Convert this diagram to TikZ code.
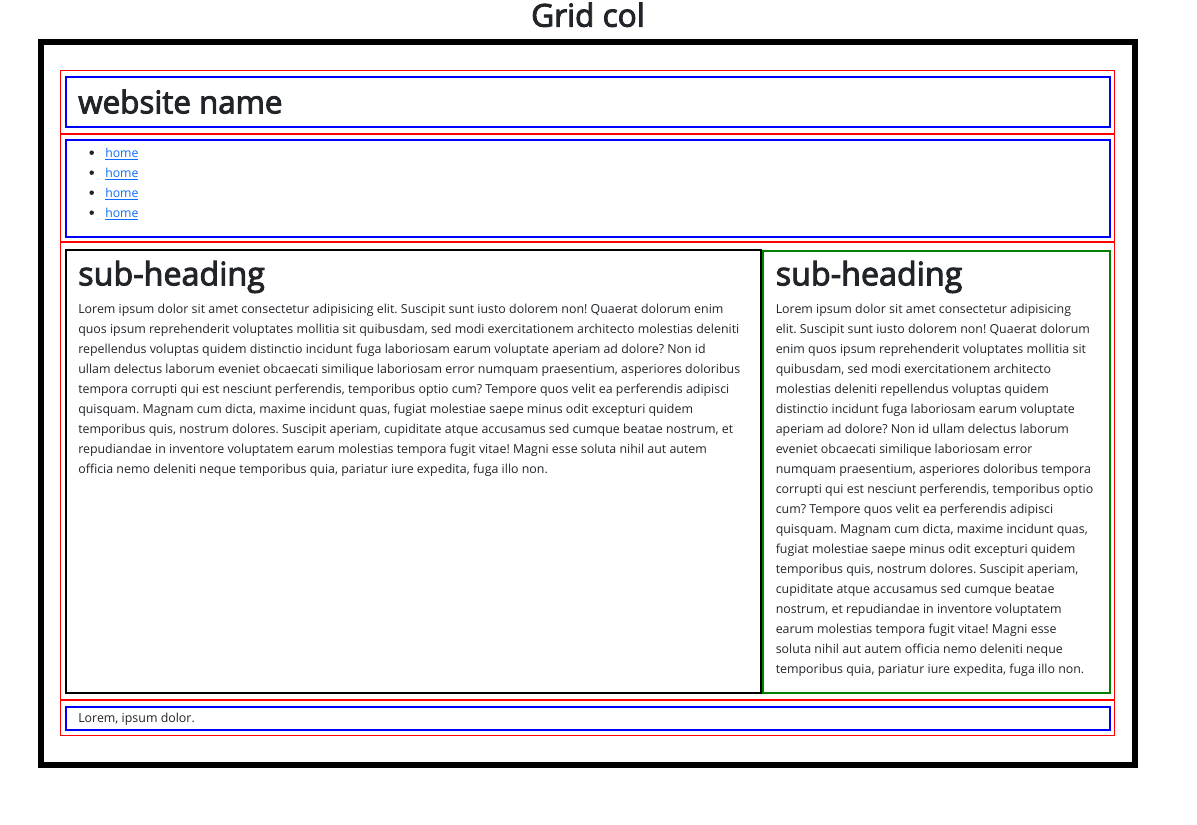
\documentclass[tikz,border=0pt]{standalone}
\usepackage{fontspec}
\setmainfont{Open Sans}
\newfontfamily\headfont{Open Sans}[FakeBold=3]
\definecolor{bstext}{HTML}{212529}
\definecolor{bslink}{HTML}{0D6EFD}
\definecolor{sidegreen}{HTML}{008000}
\frenchspacing
\tikzset{
  pageframe/.style={draw=black, line width=4.5pt},
  regionbox/.style={draw=red, line width=0.75pt},
  innerbox/.style={draw=blue, line width=1.5pt},
  mainbox/.style={draw=black, line width=1.5pt},
  sidebox/.style={draw=sidegreen, line width=1.5pt},
  txt/.style={anchor=base west, inner sep=0pt, text=bstext, font=\fontsize{9.3}{15}\selectfont},
  heading/.style={anchor=base west, inner sep=0pt, text=bstext, font=\headfont\fontsize{24.2}{29}\selectfont},
  navlink/.style={anchor=base west, inner sep=0pt, text=bslink, font=\fontsize{9.2}{15}\selectfont}
}

\begin{document}
\begin{tikzpicture}[x=0.75pt, y=-0.75pt]
    \useasboundingbox (0,0) rectangle (1197,825);
    \node (title) at (588,26.7) [heading, anchor=base, font=\headfont\fontsize{23.7}{28}\selectfont] {Grid col};
    \draw [pageframe] (41,42) rectangle (1135,765);

    \draw [regionbox] (60.5,70.5) rectangle (1114.5,133.5);
    \draw [regionbox] (60.5,134.5) rectangle (1114.5,241.5);
    \draw [regionbox] (60.5,242.5) rectangle (1114.5,699.5);
    \draw [regionbox] (60.5,700.5) rectangle (1114.5,735.5);

    \draw [innerbox] (66,77.3) rectangle (1110,126.7);
    \node (site) at (78,113.3) [heading, font=\headfont\fontsize{23.5}{28}\selectfont] {website name};

    \draw [innerbox] (66,140) rectangle (1110,236.7);
    \foreach \i in {0,...,3} {
        \fill [bstext] (91.7,152.7+20*\i) circle [radius=1.7pt];
        \node (home\i) at (105,157.3+20*\i) [navlink] {\underline{home}};
    }

    \draw [mainbox] (66,250) rectangle (761.2,693);
    \draw [sidebox] (763,250.5) rectangle (1109.7,692.7);
    \node (mainhead) at (78,285.3) [heading] {sub-heading};
    \node (sidehead) at (775.5,285.3) [heading] {sub-heading};

    \foreach \ln [count=\i from 0] in {
        {Lorem ipsum dolor sit amet consectetur adipisicing elit. Suscipit sunt iusto dolorem non! Quaerat dolorum enim},
        {quos ipsum reprehenderit voluptates mollitia sit quibusdam, sed modi exercitationem architecto molestias deleniti},
        {repellendus voluptas quidem distinctio incidunt fuga laboriosam earum voluptate aperiam ad dolore? Non id},
        {ullam delectus laborum eveniet obcaecati similique laboriosam error numquam praesentium, asperiores doloribus},
        {tempora corrupti qui est nesciunt perferendis, temporibus optio cum? Tempore quos velit ea perferendis adipisci},
        {quisquam. Magnam cum dicta, maxime incidunt quas, fugiat molestiae saepe minus odit excepturi quidem},
        {temporibus quis, nostrum dolores. Suscipit aperiam, cupiditate atque accusamus sed cumque beatae nostrum, et},
        {repudiandae in inventore voluptatem earum molestias tempora fugit vitae! Magni esse soluta nihil aut autem},
        {officia nemo deleniti neque temporibus quia, pariatur iure expedita, fuga illo non.}}
        \node (main\i) at (78,313+20*\i) [txt] {\ln};

    \foreach \ln [count=\i from 0] in {
        {Lorem ipsum dolor sit amet consectetur adipisicing},
        {elit. Suscipit sunt iusto dolorem non! Quaerat dolorum},
        {enim quos ipsum reprehenderit voluptates mollitia sit},
        {quibusdam, sed modi exercitationem architecto},
        {molestias deleniti repellendus voluptas quidem},
        {distinctio incidunt fuga laboriosam earum voluptate},
        {aperiam ad dolore? Non id ullam delectus laborum},
        {eveniet obcaecati similique laboriosam error},
        {numquam praesentium, asperiores doloribus tempora},
        {corrupti qui est nesciunt perferendis, temporibus optio},
        {cum? Tempore quos velit ea perferendis adipisci},
        {quisquam. Magnam cum dicta, maxime incidunt quas,},
        {fugiat molestiae saepe minus odit excepturi quidem},
        {temporibus quis, nostrum dolores. Suscipit aperiam,},
        {cupiditate atque accusamus sed cumque beatae},
        {nostrum, et repudiandae in inventore voluptatem},
        {earum molestias tempora fugit vitae! Magni esse},
        {soluta nihil aut autem officia nemo deleniti neque},
        {temporibus quia, pariatur iure expedita, fuga illo non.}}
        \node (side\i) at (775.5,313+20*\i) [txt] {\ln};

    \draw [innerbox] (66,707) rectangle (1110,730);
    \node (foot) at (78,722.5) [txt] {Lorem, ipsum dolor.};
\end{tikzpicture}
\end{document}
